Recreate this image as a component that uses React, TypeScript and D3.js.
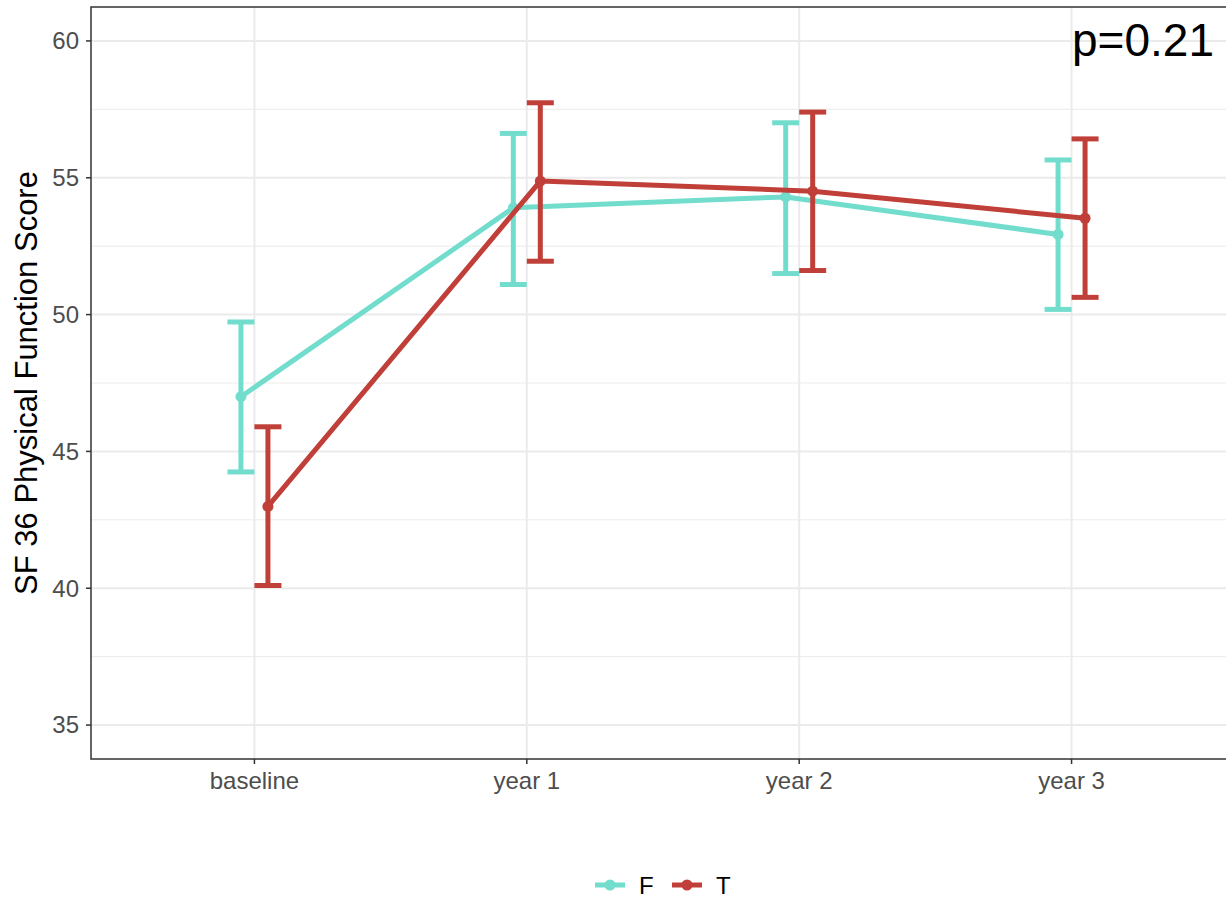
import React, { useEffect, useRef } from 'react';
import * as d3 from 'd3';

// time points
const categories = ['baseline', 'year 1', 'year 2', 'year 3'];

// group F (mean and error bar ends)
const fMean = [47.0, 53.9, 54.3, 52.93];
const fLow = [44.25, 51.1, 51.5, 50.19];
const fHigh = [49.73, 56.62, 57.01, 55.65];

// group T
const tMean = [42.99, 54.88, 54.51, 53.52];
const tLow = [40.1, 51.95, 51.61, 50.63];
const tHigh = [45.9, 57.74, 57.4, 56.42];

const yTicks = [35, 40, 45, 50, 55, 60];
const yMinor = [37.5, 42.5, 47.5, 52.5, 57.5];
const pLabel = 'p=0.21';

const groups = [
    { name: 'F', color: '#72DDCD', mean: fMean, low: fLow, high: fHigh, dodge: -13.5 },
    { name: 'T', color: '#C03F39', mean: tMean, low: tLow, high: tHigh, dodge: 13.5 },
];

function App() {
    const svgRef = useRef<SVGSVGElement>(null);

    useEffect(() => {
        const W = 1226, H = 899;
        const panel = { left: 91, right: 1235, top: 7, bottom: 759 };
        const font = '"Liberation Sans", Arial, Helvetica, sans-serif';

        const svg = d3.select(svgRef.current);
        svg.selectAll('*').remove();
        svg.attr('width', W).attr('height', H);

        svg.append('rect').attr('width', W).attr('height', H).attr('fill', '#fff');

        const x = d3.scalePoint<string>()
            .domain(categories)
            .range([panel.left, panel.right])
            .padding(0.6);

        const y = d3.scaleLinear()
            .domain([33.76, 61.24])
            .range([panel.bottom, panel.top]);

        svg.append('defs').append('clipPath').attr('id', 'panel-clip')
            .append('rect')
            .attr('x', panel.left).attr('y', panel.top)
            .attr('width', panel.right - panel.left)
            .attr('height', panel.bottom - panel.top);

        const grid = svg.append('g');
        grid.selectAll('line.minor').data(yMinor).enter().append('line')
            .attr('x1', panel.left).attr('x2', panel.right)
            .attr('y1', d => y(d)).attr('y2', d => y(d))
            .attr('stroke', '#EBEBEB').attr('stroke-width', 1);
        grid.selectAll('line.major').data(yTicks).enter().append('line')
            .attr('x1', panel.left).attr('x2', panel.right)
            .attr('y1', d => y(d)).attr('y2', d => y(d))
            .attr('stroke', '#EBEBEB').attr('stroke-width', 2);
        grid.selectAll('line.vmajor').data(categories).enter().append('line')
            .attr('x1', d => x(d)!).attr('x2', d => x(d)!)
            .attr('y1', panel.top).attr('y2', panel.bottom)
            .attr('stroke', '#EBEBEB').attr('stroke-width', 2);

        const plot = svg.append('g').attr('clip-path', 'url(#panel-clip)');
        const capHalf = 13.5;

        groups.forEach(g => {
            const gg = plot.append('g');
            const px = (i: number) => x(categories[i])! + g.dodge;

            // error bars
            categories.forEach((c, i) => {
                gg.append('line')
                    .attr('x1', px(i)).attr('x2', px(i))
                    .attr('y1', y(g.low[i])).attr('y2', y(g.high[i]))
                    .attr('stroke', g.color).attr('stroke-width', 5);
                [g.low[i], g.high[i]].forEach(v => {
                    gg.append('line')
                        .attr('x1', px(i) - capHalf).attr('x2', px(i) + capHalf)
                        .attr('y1', y(v)).attr('y2', y(v))
                        .attr('stroke', g.color).attr('stroke-width', 5);
                });
            });

            const line = d3.line<number>()
                .x((d, i) => px(i))
                .y(d => y(d));
            gg.append('path')
                .attr('d', line(g.mean))
                .attr('fill', 'none')
                .attr('stroke', g.color)
                .attr('stroke-width', 5)
                .attr('stroke-linejoin', 'round');

            gg.selectAll('circle').data(g.mean).enter().append('circle')
                .attr('cx', (d, i) => px(i))
                .attr('cy', d => y(d))
                .attr('r', 5.5)
                .attr('fill', g.color);
        });

        // panel border
        svg.append('rect')
            .attr('x', panel.left).attr('y', panel.top)
            .attr('width', panel.right - panel.left)
            .attr('height', panel.bottom - panel.top)
            .attr('fill', 'none').attr('stroke', '#333').attr('stroke-width', 1.5);

        // y axis
        const yAxis = svg.append('g');
        yTicks.forEach(t => {
            yAxis.append('line')
                .attr('x1', panel.left - 5).attr('x2', panel.left)
                .attr('y1', y(t)).attr('y2', y(t))
                .attr('stroke', '#333').attr('stroke-width', 1.5);
            yAxis.append('text')
                .attr('x', panel.left - 12).attr('y', y(t))
                .attr('dy', '0.35em')
                .attr('text-anchor', 'end')
                .attr('font-family', font).attr('font-size', 24)
                .attr('fill', '#4D4D4D')
                .text(t);
        });

        // x axis
        const xAxis = svg.append('g');
        categories.forEach(c => {
            xAxis.append('line')
                .attr('x1', x(c)!).attr('x2', x(c)!)
                .attr('y1', panel.bottom).attr('y2', panel.bottom + 5)
                .attr('stroke', '#333').attr('stroke-width', 1.5);
            xAxis.append('text')
                .attr('x', x(c)!).attr('y', 789)
                .attr('text-anchor', 'middle')
                .attr('font-family', font).attr('font-size', 24)
                .attr('fill', '#4D4D4D')
                .text(c);
        });

        // y title
        svg.append('text')
            .attr('transform', `translate(37,${(panel.top + panel.bottom) / 2}) rotate(-90)`)
            .attr('text-anchor', 'middle')
            .attr('font-family', font).attr('font-size', 31)
            .attr('fill', '#000')
            .text('SF 36 Physical Function Score');

        // p value
        svg.append('text')
            .attr('x', 1214).attr('y', 56)
            .attr('text-anchor', 'end')
            .attr('font-family', font).attr('font-size', 46)
            .attr('fill', '#000')
            .text(pLabel);

        // legend
        const legend = svg.append('g');
        const legendX = [595, 672];
        groups.forEach((g, i) => {
            const lx = legendX[i];
            legend.append('line')
                .attr('x1', lx).attr('x2', lx + 30)
                .attr('y1', 885).attr('y2', 885)
                .attr('stroke', g.color).attr('stroke-width', 5);
            legend.append('circle')
                .attr('cx', lx + 15).attr('cy', 885).attr('r', 5.5)
                .attr('fill', g.color);
            legend.append('text')
                .attr('x', lx + 44).attr('y', 885)
                .attr('dy', '0.36em')
                .attr('font-family', font).attr('font-size', 24)
                .attr('fill', '#000')
                .text(g.name);
        });
    }, []);

    return (
        <div style={{ position: 'absolute', left: 0, top: 0 }}>
            <svg ref={svgRef} style={{ display: 'block' }}></svg>
        </div>
    );
}

export default App;
